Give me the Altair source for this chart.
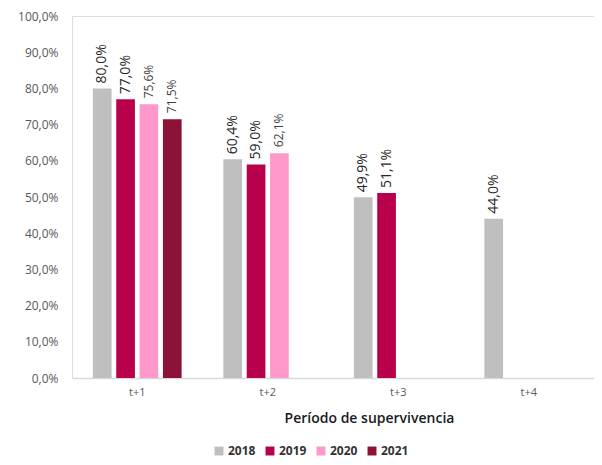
import altair as alt
import pandas as pd

periods = ["t+1", "t+2", "t+3", "t+4"]
years = ["2018", "2019", "2020", "2021"]
colors = ["#BFBFBF", "#B8004B", "#FF99CC", "#8C1238"]
values = {
    "2018": [80.0, 60.4, 49.9, 44.0],
    "2019": [77.0, 59.0, 51.1, None],
    "2020": [75.6, 62.1, None, None],
    "2021": [71.5, None, None, None],
}
big_label_years = ["2018", "2019"]

rows = []
for y in years:
    for p, v in zip(periods, values[y]):
        if v is not None:
            rows.append({"period": p, "year": y, "value": v / 100.0,
                         "big": y in big_label_years})
df = pd.DataFrame(rows)

FONT = "Open Sans"

x = alt.X("period:N", sort=periods,
          scale=alt.Scale(domain=periods, paddingInner=0.32, paddingOuter=0.16),
          axis=alt.Axis(title="Período de supervivencia", labelAngle=0,
                        labelFont=FONT, labelFontSize=11, labelColor="#595959",
                        labelPadding=8, ticks=False, domainColor="#D9D9D9",
                        domainWidth=1.5, titleFont=FONT, titleFontSize=14,
                        titleFontWeight=600, titleColor="#1a1a1a",
                        titlePadding=14, titleX=297))
xo = alt.XOffset("year:N", sort=years,
                 scale=alt.Scale(domain=years, paddingInner=0.2, paddingOuter=0))
yenc = alt.Y("value:Q",
             scale=alt.Scale(domain=[0, 1], nice=False),
             axis=alt.Axis(title=None, values=[i / 10 for i in range(11)],
                           labelExpr="replace(format(datum.value, '.1%'), '.', ',')",
                           labelFont=FONT, labelFontSize=12, labelColor="#595959",
                           grid=False, ticks=False, domain=False, labelPadding=14))

bars = alt.Chart(df).mark_bar().encode(
    x=x, xOffset=xo, y=yenc,
    color=alt.Color("year:N", sort=years,
                    scale=alt.Scale(domain=years, range=colors),
                    legend=alt.Legend(title=None, orient="none", direction="horizontal",
                                      legendX=141, legendY=429, symbolType="square",
                                      symbolSize=80, symbolStrokeWidth=0,
                                      labelFont=FONT, labelFontSize=12,
                                      labelFontWeight="bold", labelColor="#333333",
                                      columnPadding=8, labelOffset=3, padding=0)),
)

labels_base = alt.Chart(df).transform_calculate(
    lab="replace(format(datum.value, '.1%'), '.', ',')"
)
big = labels_base.transform_filter("datum.big").mark_text(
    angle=270, align="left", baseline="middle", dx=5, font=FONT,
    fontSize=14, color="#262626"
).encode(x=x, xOffset=xo, y=yenc, text="lab:N")
small = labels_base.transform_filter("!datum.big").mark_text(
    angle=270, align="left", baseline="middle", dx=6, font=FONT,
    fontSize=12, color="#404040"
).encode(x=x, xOffset=xo, y=yenc, text="lab:N")

chart = alt.layer(bars, big, small).properties(
    width=522, height=362,
    autosize=alt.AutoSizeParams(type="none"),
    padding={"left": 64, "top": 8, "right": 0, "bottom": 84},
).configure_view(stroke=None).configure(background="white")

chart.save("out.html", embed_options={"renderer": "svg", "actions": False})
